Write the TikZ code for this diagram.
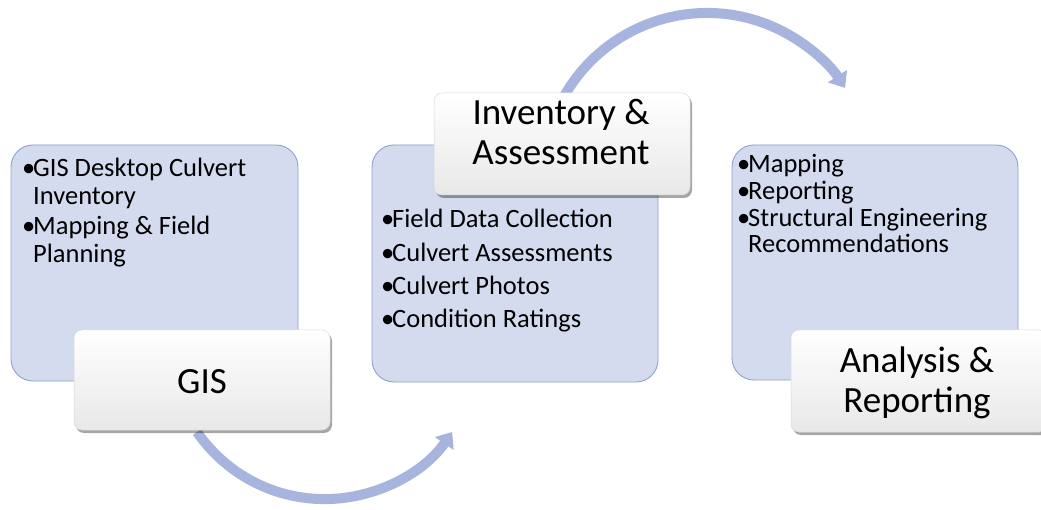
\documentclass[tikz,border=0pt]{standalone}
\usepackage{fontspec}
\setmainfont{Carlito}
\usetikzlibrary{arrows.meta,shadows}
\definecolor{boxfill}{HTML}{D5DBEE}
\definecolor{boxline}{HTML}{8EA2D1}
\definecolor{arrowc}{HTML}{A7B5DE}
\newcommand\bul{\makebox[11pt][l]{\textbullet}}
\begin{document}
\begin{tikzpicture}[x=1pt,y=-1pt,
  panel/.style={draw=boxline, line width=0.9pt, fill=boxfill, rounded corners=22pt, inner sep=0pt},
  tag/.style={draw=black!15, line width=0.5pt, rounded corners=8pt, top color=white, bottom color=black!9, inner sep=0pt,
    drop shadow={shadow xshift=2pt, shadow yshift=-3pt, opacity=0.35, fill=black}},
  body/.style={font=\fontsize{26.5}{28}\selectfont, inner sep=0pt, anchor=base west},
  head/.style={font=\fontsize{37}{40}\selectfont, inner sep=0pt, anchor=base},
  flow/.style={draw=arrowc, line width=10pt, -{Triangle[length=14pt,width=22pt]}}]
\useasboundingbox (0,0) rectangle (1041,510);
\fill[white] (0,0) rectangle (1041,510);

% connectors
\coordinate (a1s) at (197,432);
\coordinate (a2s) at (562,100);
\draw[flow] (a1s) arc[start angle=145.5, end angle=34.5, radius=154.8] coordinate (a1e);
\draw[flow] (a2s) arc[start angle=208.1, end angle=327, radius=164.5] coordinate (a2e);

% panels
\node[panel, minimum width=287pt, minimum height=236pt] (p1) at (154.5,263) {};
\node[panel, minimum width=286pt, minimum height=237pt] (p2) at (515,263.5) {};
\node[panel, minimum width=286pt, minimum height=235pt] (p3) at (875,262.5) {};

% panel texts
\node[body] (p1a) at (22,177) {\bul GIS Desktop Culvert};
\node[body] (p1b) at (33,205) {Inventory};
\node[body] (p1c) at (22,235) {\bul Mapping \& Field};
\node[body] (p1d) at (33,263) {Planning};

\node[body] (p2a) at (381,228) {\bul Field Data Collection};
\node[body] (p2b) at (381,261.5) {\bul Culvert Assessments};
\node[body] (p2c) at (381,295) {\bul Culvert Photos};
\node[body] (p2d) at (381,328) {\bul Condition Ratings};

\node[body] (p3a) at (737,173) {\bul Mapping};
\node[body] (p3b) at (737,200) {\bul Reporting};
\node[body] (p3c) at (737,227) {\bul Structural Engineering};
\node[body] (p3d) at (748,253) {Recommendations};

% tags
\node[tag, minimum width=256pt, minimum height=100pt] (l1) at (202,380) {};
\node[tag, minimum width=256pt, minimum height=102pt] (l2) at (562,144) {};
\node[tag, minimum width=256pt, minimum height=102pt] (l3) at (919,381) {};

\node[head] (h1) at (202,393) {GIS};
\node[head] (h2a) at (561,125) {Inventory \&};
\node[head] (h2b) at (561,165) {Assessment};
\node[head] (h3a) at (917,372) {Analysis \&};
\node[head] (h3b) at (917,412) {Reporting};
\end{tikzpicture}
\end{document}
